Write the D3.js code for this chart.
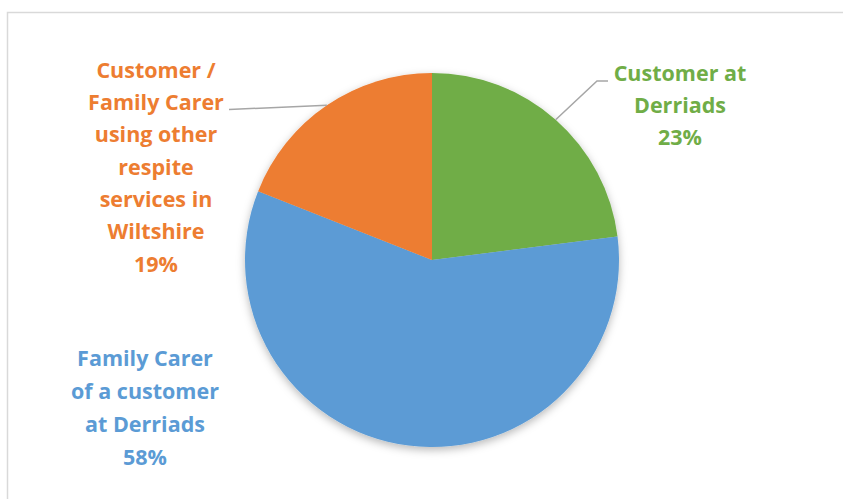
<!DOCTYPE html>
<html>
<head>
<meta charset="utf-8">
<script src="https://cdn.jsdelivr.net/npm/d3@7"></script>
<style>
  html, body { margin: 0; padding: 0; background: #fff; }
  svg { display: block; }
</style>
</head>
<body>
<svg id="chart" width="843" height="499"></svg>
<script>
const categories = ["Customer at Derriads", "Family Carer of a customer at Derriads", "Customer / Family Carer using other respite services in Wiltshire"];
const values = [23, 58, 19];
const labelLines = [
  ["Customer at", "Derriads"],
  ["Family Carer", "of a customer", "at Derriads"],
  ["Customer /", "Family Carer", "using other", "respite", "services in", "Wiltshire"]
];
const colors = ["#70AD47", "#5B9BD5", "#ED7D31"];

const svg = d3.select("#chart");

// chart border
svg.append("rect")
  .attr("x", 7.5).attr("y", 12.5)
  .attr("width", 900).attr("height", 600)
  .attr("fill", "#fff").attr("stroke", "#d9d9d9").attr("stroke-width", 1.5);

const defs = svg.append("defs");
const f = defs.append("filter").attr("id", "shadow")
  .attr("x", "-20%").attr("y", "-20%").attr("width", "140%").attr("height", "140%");
f.append("feDropShadow").attr("dx", 0).attr("dy", 3).attr("stdDeviation", 4)
  .attr("flood-color", "#000").attr("flood-opacity", 0.28);

const cx = 432, cy = 260, R = 187;
const pie = d3.pie().sort(null).value(d => d)(values);
const arc = d3.arc().innerRadius(0).outerRadius(R);

const g = svg.append("g").attr("transform", `translate(${cx},${cy})`);
g.append("g").attr("filter", "url(#shadow)")
  .selectAll("path").data(pie).join("path")
  .attr("d", arc)
  .attr("fill", (d, i) => colors[i]);

// label layout (positions only)
const labelPos = [
  { x: 680, y: 73, step: 32, leader: [[608, 81], [597, 81]] },
  { x: 145, y: 358, step: 33, leader: null },
  { x: 156, y: 70, step: 32.3, leader: [[229, 109.5]] }
];

pie.forEach((d, i) => {
  const lp = labelPos[i];
  const lines = labelLines[i].concat([Math.round(d.value / d3.sum(values) * 100) + "%"]);
  const t = svg.append("text")
    .attr("text-anchor", "middle")
    .attr("font-family", "'Open Sans', 'Liberation Sans', sans-serif")
    .attr("font-weight", "bold")
    .attr("font-size", 21.5)
    .attr("fill", colors[i]);
  lines.forEach((ln, k) => {
    t.append("tspan").attr("x", lp.x).attr("y", lp.y + k * lp.step).attr("dy", "0.36em").text(ln);
  });
  if (lp.leader) {
    const mid = (d.startAngle + d.endAngle) / 2;
    const ex = cx + Math.sin(mid) * R, ey = cy - Math.cos(mid) * R;
    const pts = lp.leader.concat([[ex, ey]]);
    svg.append("path")
      .attr("d", d3.line()(pts))
      .attr("fill", "none").attr("stroke", "#a6a6a6").attr("stroke-width", 1.5);
  }
});
</script>
</body>
</html>
